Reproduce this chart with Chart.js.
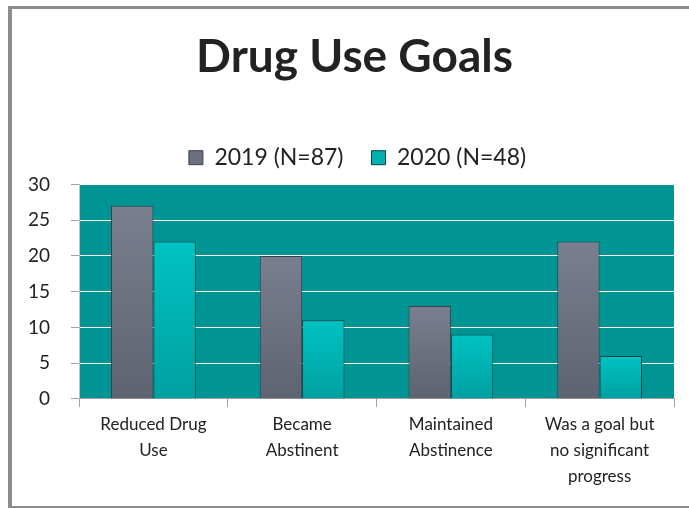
<!doctype html>
<html>

<head>
	<title>Drug Use Goals</title>
	<script src="https://cdn.jsdelivr.net/npm/chart.js@4/dist/chart.umd.min.js"></script>
	<style>
		body {
			margin: 0;
			background: #fff;
		}
	</style>
</head>

<body>
	<div style="width:689px;height:508px;">
		<canvas id="canvas"></canvas>
	</div>
	<script>
		var CATEGORIES = [['Reduced Drug', 'Use'], ['Became', 'Abstinent'], ['Maintained', 'Abstinence'], ['Was a goal but', 'no significant', 'progress']];
		var SERIES_NAMES = ['2019 (N=87)', '2020 (N=48)'];
		var VALUES_2019 = [27, 20, 13, 22];
		var VALUES_2020 = [22, 11, 9, 6];
		var Y_TICKS = [0, 5, 10, 15, 20, 25, 30];

		var FONT = 'Lato, "Open Sans", sans-serif';

		// teal plot background + grey frame (left, top, bottom; the right side is cut off)
		var backdrop = {
			id: 'backdrop',
			afterLayout: function(chart) {
				// title and legend sit a little right of the canvas centre in the original
				if (chart.titleBlock) {
					chart.titleBlock.left += 14;
					chart.titleBlock.right += 14;
				}
				if (chart.legend) {
					chart.legend.left += 17;
					chart.legend.right += 17;
				}
			},
			beforeDraw: function(chart) {
				var ctx = chart.ctx;
				var a = chart.chartArea;
				ctx.save();
				ctx.fillStyle = '#009494';
				ctx.fillRect(a.left, a.top, a.right - a.left, a.bottom - a.top);
				ctx.fillStyle = '#8c8c8c';
				ctx.fillRect(8, 6, 4, chart.height - 6);
				ctx.fillRect(8, 6, chart.width - 8, 3);
				ctx.fillRect(8, chart.height - 2, chart.width - 8, 2);
				ctx.restore();
			}
		};

		// vertical shading on each bar, light at the top
		function barShade(top, bottom, flat) {
			return function(c) {
				var chart = c.chart;
				if (!chart.chartArea || !chart.scales.y || c.raw == null) return flat;
				var y = chart.scales.y;
				var g = chart.ctx.createLinearGradient(0, y.getPixelForValue(c.raw), 0, y.getPixelForValue(0));
				g.addColorStop(0, top);
				g.addColorStop(1, bottom);
				return g;
			};
		}

		window.onload = function() {
			new Chart('canvas', {
				type: 'bar',
				data: {
					labels: CATEGORIES,
					datasets: [{
						label: SERIES_NAMES[0],
						data: VALUES_2019,
						backgroundColor: barShade('#7a7f8f', '#5e6371', '#6b7080'),
						borderColor: '#3c3f48',
						borderWidth: 1
					}, {
						label: SERIES_NAMES[1],
						data: VALUES_2020,
						backgroundColor: barShade('#00c2c2', '#00a0a0', '#00b1b1'),
						borderColor: '#0b4040',
						borderWidth: 1
					}]
				},
				plugins: [backdrop],
				options: {
					responsive: true,
					maintainAspectRatio: false,
					animation: false,
					categoryPercentage: 0.57,
					barPercentage: 1,
					layout: {
						padding: { left: 7, right: 15, top: 0, bottom: 13 }
					},
					plugins: {
						title: {
							display: true,
							text: 'Drug Use Goals',
							color: '#222',
							font: { family: FONT, size: 46, weight: 'bold' },
							padding: { top: 30, bottom: 33 }
						},
						// empty subtitle used as a spacer between legend and plot
						subtitle: {
							display: true,
							text: '',
							weight: 500,
							font: { size: 1 },
							padding: { top: 4, bottom: 0 }
						},
						legend: {
							labels: {
								color: '#222',
								font: { family: FONT, size: 23 },
								boxWidth: 14,
								boxHeight: 14,
								padding: 28,
								generateLabels: function(chart) {
									var items = Chart.defaults.plugins.legend.labels.generateLabels(chart);
									var flat = ['#6b7080', '#00b1b1'];
									items.forEach(function(it, i) { it.fillStyle = flat[i]; });
									return items;
								}
							}
						},
						tooltip: { enabled: false }
					},
					scales: {
						x: {
							grid: {
								drawOnChartArea: false,
								offset: true,
								tickLength: 8,
								tickColor: '#a0a0a0'
							},
							border: { color: '#a0a0a0' },
							ticks: {
								color: '#222',
								padding: 5,
								maxRotation: 0,
								font: { family: FONT, size: 17, lineHeight: 1.53 }
							}
						},
						y: {
							min: 0,
							max: 30,
							afterBuildTicks: function(axis) {
								axis.ticks = Y_TICKS.map(function(v) { return { value: v }; });
							},
							grid: {
								color: '#ffffff',
								tickLength: 8,
								tickColor: '#a0a0a0'
							},
							border: { color: '#c0c0c0' },
							ticks: {
								color: '#222',
								padding: 21,
								font: { family: FONT, size: 19 }
							}
						}
					}
				}
			});
		};
	</script>
</body>

</html>
